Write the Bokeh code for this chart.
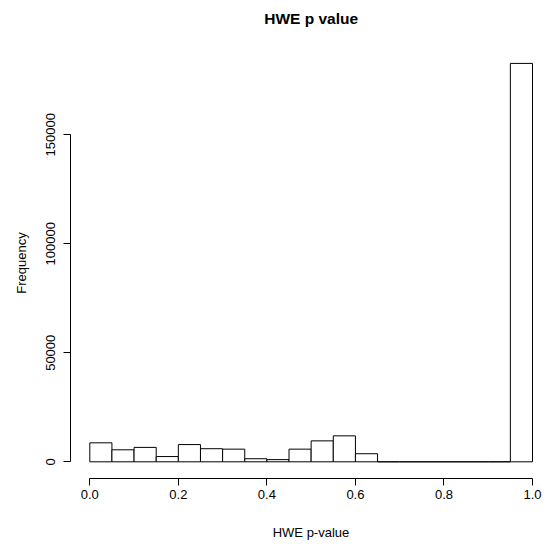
from bokeh.plotting import figure
from bokeh.layouts import column
from bokeh.models import Range1d, FixedTicker, PrintfTickFormatter, ColumnDataSource
from bokeh.core.properties import value
from bokeh.embed import file_html
from bokeh.resources import INLINE

# Histogram data (bin edges and counts)
bin_edges = [0.00, 0.05, 0.10, 0.15, 0.20, 0.25, 0.30, 0.35, 0.40, 0.45, 0.50,
             0.55, 0.60, 0.65, 0.70, 0.75, 0.80, 0.85, 0.90, 0.95, 1.00]
counts = [8700, 5500, 6600, 2400, 7900, 6000, 5800, 1400, 1000, 5800,
          9600, 11900, 3700, 0, 0, 0, 0, 0, 0, 182700]
x_ticks = [0.0, 0.2, 0.4, 0.6, 0.8, 1.0]
y_ticks = [0, 50000, 100000, 150000]
title_text = "HWE p value"

FONT = "Liberation Sans"
X0, X1 = -0.0436, 1.0429

src = ColumnDataSource(dict(left=bin_edges[:-1], right=bin_edges[1:],
                            top=counts, bottom=[0] * len(counts)))

# Title strip above the plot, sharing the plot's horizontal scale
t = figure(frame_width=481, frame_height=47, output_backend="svg",
           toolbar_location=None, x_range=Range1d(X0, X1), y_range=Range1d(0, 47),
           min_border_left=70, min_border_right=0, min_border_top=0,
           min_border_bottom=0, x_axis_type=None, y_axis_type=None)
t.outline_line_color = None
t.grid.visible = False
t.text(x=[0.5], y=[29], text=[title_text], text_font=value(FONT),
       text_font_size="15.5px", text_font_style="bold", text_color="black",
       text_align="center", text_baseline="middle")

p = figure(frame_width=481, frame_height=431, output_backend="svg",
           toolbar_location=None,
           x_range=Range1d(X0, X1), y_range=Range1d(-7660, 190000),
           min_border_left=70, min_border_right=0, min_border_top=0,
           min_border_bottom=60)
p.outline_line_color = None
p.grid.visible = False
p.background_fill_color = "white"

p.quad(left="left", right="right", top="top", bottom="bottom", source=src,
       fill_color="white", line_color="black", line_width=1)

xa = p.xaxis[0]
xa.ticker = FixedTicker(ticks=x_ticks)
xa.formatter = PrintfTickFormatter(format="%.1f")
xa.bounds = (0, 1)
xa.axis_label = "HWE p-value"
ya = p.yaxis[0]
ya.ticker = FixedTicker(ticks=y_ticks)
ya.formatter = PrintfTickFormatter(format="%d")
ya.bounds = (0, 150000)
ya.axis_label = "Frequency"
ya.major_label_orientation = "vertical"

for ax in (xa, ya):
    ax.minor_tick_line_color = None
    ax.major_tick_in = 0
    ax.major_tick_out = 7
    ax.axis_line_color = "black"
    ax.major_tick_line_color = "black"
    ax.major_label_text_font = FONT
    ax.major_label_text_font_size = "13px"
    ax.major_label_text_color = "black"
    ax.axis_label_text_font = FONT
    ax.axis_label_text_font_size = "13px"
    ax.axis_label_text_font_style = "normal"
    ax.axis_label_text_color = "black"

xa.major_label_standoff = 4
ya.major_label_standoff = 8
xa.axis_label_standoff = 23
ya.axis_label_standoff = 15

layout = column(t, p, spacing=0)
open("out.html", "w").write(file_html(layout, INLINE))
